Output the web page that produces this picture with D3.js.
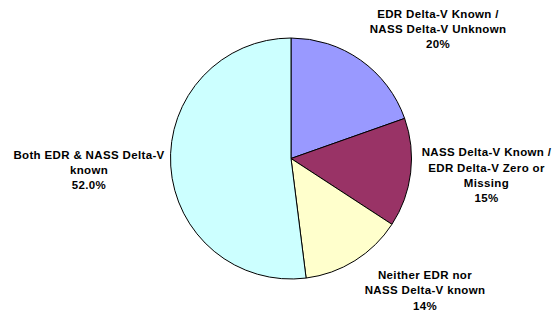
<!DOCTYPE html>
<html lang="en">
<head>
    <meta charset="UTF-8">
    <title>Delta-V availability</title>
    <script src="https://d3js.org/d3.v7.min.js"></script>
    <style>
        body { margin: 0; background: #fff; }
        text { font-family: Arial, "Liberation Sans", sans-serif; font-weight: bold; font-size: 11.5px; letter-spacing: 0.35px; fill: #000; }
    </style>
</head>
<body>
 <div id="mainbody"></div>
 <script>

    // data, clockwise from 12 o'clock
    const categories = [
        ["EDR Delta-V Known /", "NASS Delta-V Unknown"],
        ["NASS Delta-V Known /", "EDR Delta-V Zero or", "Missing"],
        ["Neither EDR nor", "NASS Delta-V known"],
        ["Both EDR & NASS Delta-V", "known"]
    ];
    const values = [19.6, 14.6, 13.8, 52.0];
    const pctLabels = ["20%", "15%", "14%", "52.0%"];
    const colors = ["#9999FF", "#993366", "#FFFFCC", "#CCFFFF"];

    const W = 555, H = 314;
    const cx = 291, cy = 158.5, r = 120.5;

    // where each label block sits (center x, first baseline y)
    const labelPos = [[438, 17.5], [486.5, 156.3], [425, 279], [89, 158.7]];
    const lineH = 15.3;

    let svg = d3.select("#mainbody").append("svg")
        .attr("width", W)
        .attr("height", H);

    let pie = d3.pie().sort(null).value(d => d);
    let arc = d3.arc().innerRadius(0).outerRadius(r);

    let g = svg.append("g").attr("transform", `translate(${cx},${cy})`);

    g.selectAll(".slice")
        .data(pie(values))
        .enter()
        .append("path")
        .attr("class", "slice")
        .attr("d", arc)
        .attr("fill", (d, i) => colors[i])
        .attr("stroke", "#000")
        .attr("stroke-width", 1);

    let labels = svg.selectAll(".lbl")
        .data(categories)
        .enter()
        .append("text")
        .attr("class", "lbl")
        .attr("text-anchor", "middle");

    labels.each(function(lines, i) {
        let all = lines.concat([pctLabels[i]]);
        let [lx, ly] = labelPos[i];
        d3.select(this).selectAll("tspan")
            .data(all)
            .enter()
            .append("tspan")
            .attr("x", lx)
            .attr("y", (d, j) => ly + j * lineH)
            .text(d => d);
    });

 </script>
</body>
</html>
